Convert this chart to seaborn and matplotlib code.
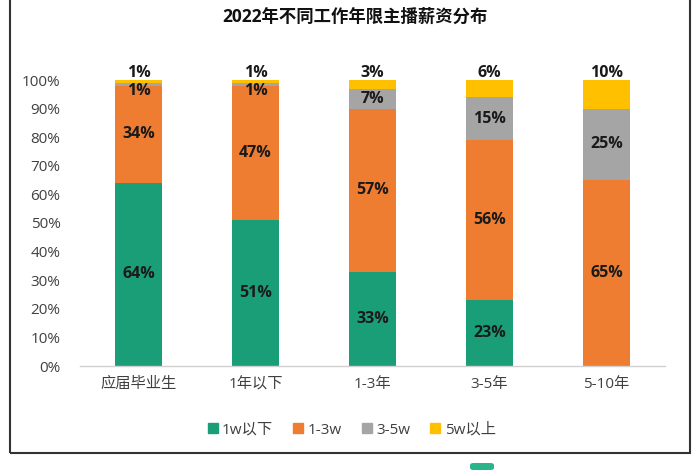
import matplotlib
matplotlib.use("Agg")
import matplotlib.pyplot as plt
import seaborn as sns
import numpy as np
from matplotlib.patches import Rectangle, FancyBboxPatch
from matplotlib.lines import Line2D

categories = ["应届毕业生", "1年以下", "1-3年", "3-5年", "5-10年"]
series_names = ["1w以下", "1-3w", "3-5w", "5w以上"]
s_1w = [64, 51, 33, 23, 0]
s_1_3w = [34, 47, 57, 56, 65]
s_3_5w = [1, 1, 7, 15, 25]
s_5w = [1, 1, 3, 6, 10]
yticks = [0, 10, 20, 30, 40, 50, 60, 70, 80, 90, 100]
title = "2022年不同工作年限主播薪资分布"

colors = ["#1A9E77", "#EE7D31", "#A5A5A5", "#FFC000"]

sns.set_theme(style="white")
plt.rcParams['font.family'] = ['Open Sans', 'Noto Sans CJK SC', 'DejaVu Sans']

fig = plt.figure(figsize=(7, 4.7), dpi=100)
ax = fig.add_axes([80/700, 1-366/470, 585/700, 286/470])

all_series = [s_1w, s_1_3w, s_3_5w, s_5w]
bottom = np.zeros(len(categories))
for name, vals, col in zip(series_names, all_series, colors):
    v = np.array(vals, dtype=float)
    sns.barplot(x=categories, y=v, bottom=bottom, color=col, width=0.4,
                ax=ax, saturation=1, linewidth=0, label=name)
    for i, val in enumerate(v):
        if val <= 0:
            continue
        if name == "5w以上":
            y = bottom[i] + val - 0.3
            va = "bottom"
        elif name == "3-5w" and val < 3:
            y = bottom[i] - 1.8
            va = "center"
        else:
            y = bottom[i] + val / 2
            va = "center"
        ax.text(i, y, f"{int(val)}%", ha="center", va=va, fontsize=11.5,
                fontweight="bold", color="#1a1a1a", clip_on=False)
    bottom = bottom + v

ax.set_ylim(0, 100)
ax.set_xlim(-0.5, 4.5)
ax.set_yticks(yticks)
ax.set_yticklabels([f"{t}%" for t in yticks])
ax.tick_params(axis="both", length=0, labelsize=11, labelcolor="#404040")
ax.tick_params(axis="y", pad=14)
ax.tick_params(axis="x", pad=8)
for s in ["top", "right", "left"]:
    ax.spines[s].set_visible(False)
ax.spines["bottom"].set_color("#D0D0D0")
ax.spines["bottom"].set_linewidth(1)
ax.grid(False)
ax.set_xlabel("")
ax.set_ylabel("")
if ax.get_legend():
    ax.get_legend().remove()

handles = [Line2D([0], [0], marker="s", linestyle="", markersize=7,
                  markerfacecolor=c, markeredgecolor=c) for c in colors]
fig.legend(handles, series_names, loc="center", ncol=4,
           bbox_to_anchor=(350/700, 1-430/470), frameon=False,
           fontsize=11, handletextpad=0.05, columnspacing=1.1,
           handlelength=1.1, labelcolor="#404040")

fig.text(355/700, 1-17/470, title, ha="center", va="center",
         fontsize=12.5, fontweight="bold", color="#111111")

# outer frame
fig.add_artist(Rectangle((10/700, 1-453/470), 680/700, 460/470,
                         transform=fig.transFigure, fill=False,
                         edgecolor="#333333", linewidth=1.5))
fig.add_artist(FancyBboxPatch((470/700, 1-470/470), 24/700, 7/470,
                              boxstyle="round,pad=0,rounding_size=0.005",
                              transform=fig.transFigure,
                              facecolor="#2BB38A", edgecolor="none"))

fig.savefig("out.png", dpi=100)
